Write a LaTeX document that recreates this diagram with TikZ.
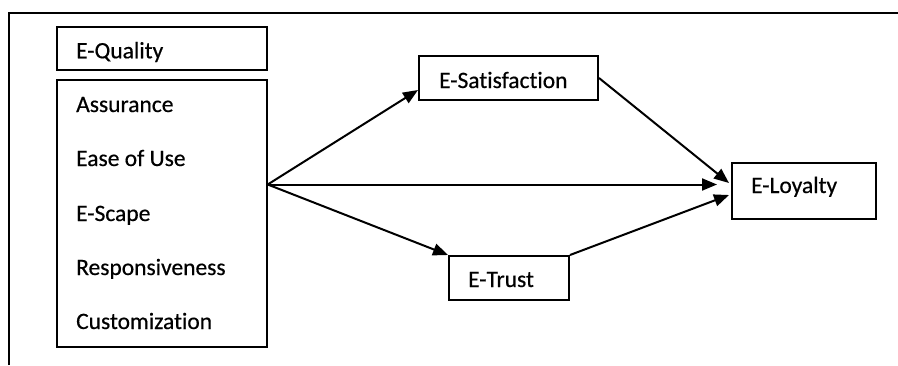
\documentclass[tikz,border=0pt]{standalone}
\usepackage{fontspec}
\setmainfont{Carlito}[Ligatures={NoCommon,NoRare,NoContextual},FakeBold=0.5]
\usetikzlibrary{arrows.meta}
\begin{document}
\begin{tikzpicture}[x=1pt,y=-1pt,
  box/.style={draw, line width=2pt, anchor=north west, inner sep=0pt},
  lbl/.style={anchor=base west, inner sep=0pt, font=\fontsize{23.5pt}{28pt}\selectfont},
  link/.style={line width=2pt, -{Triangle[length=15pt,width=12pt]}}]
\useasboundingbox (0,0) rectangle (898,365);

% open frame: left and top sides only
\draw[line width=2pt] (9,365) -- (9,12.7) -- (898,12.7);

% boxes
\node[box, minimum width=210pt, minimum height=43.6pt] (qual)   at (55.7,25.7) {};
\node[box, minimum width=210pt, minimum height=267pt]  (dims)   at (55.7,79)   {};
\node[box, minimum width=179pt, minimum height=44pt]   (esat)   at (418,55)    {};
\node[box, minimum width=120pt, minimum height=44pt]   (etrust) at (448,255)   {};
\node[box, minimum width=144pt, minimum height=56pt]   (eloy)   at (731,162)   {};

% texts
\node[lbl] (tqual)  at (76,58.3) {E-Quality};
\node[lbl] (tdim1)  at (76,112)  {Assurance};
\node[lbl] (tdim2)  at (76,166)  {Ease of Use};
\node[lbl] (tdim3)  at (76,221)  {E-Scape};
\node[lbl] (tdim4)  at (76,275)  {Responsiveness};
\node[lbl] (tdim5)  at (76,329)  {Customization};
\node[lbl] (tsat)   at (439,88)  {E-Satisfaction};
\node[lbl] (ttrust) at (468,287) {E-Trust};
\node[lbl] (tloy)   at (751,193) {E-Loyalty};

% connector end points
\coordinate (src)  at ([yshift=29pt]dims.east);
\coordinate (sin)  at ([yshift=11pt]esat.south west);
\coordinate (hend) at ([xshift=-14pt]eloy.west);
\coordinate (lup)  at ([xshift=-2pt,yshift=8pt]eloy.west);
\coordinate (llow) at ([xshift=-2pt,yshift=-4pt]eloy.west);

% connectors
\draw[link] (src) -- (sin);
\draw[link] (src) -- (hend |- src);
\draw[link] (src) -- (etrust.north west);
\draw[link] (esat.east) -- (lup);
\draw[link] (etrust.north east) -- (llow);
\end{tikzpicture}
\end{document}
